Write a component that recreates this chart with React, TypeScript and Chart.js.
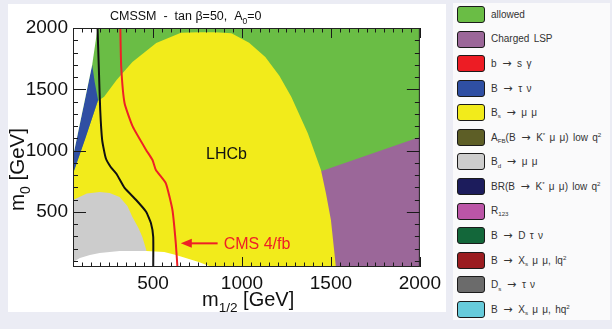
import React, { useEffect, useRef } from "react";
import { Chart, registerables } from "chart.js";
Chart.register(...registerables);

type Pt = [number, number];

// Axis ranges and tick labels (GeV)
const X_RANGE: Pt = [50, 2000];
const Y_RANGE: Pt = [50, 2000];
const xTickValues = [500, 1000, 1500, 2000];
const yTickValues = [500, 1000, 1500, 2000];

// Regions in the (m1/2, m0) plane
const allowedRegion: Pt[] = [[50, 50], [2000, 50], [2000, 2000], [50, 2000]];
const chargedLspRegion: Pt[] = [[1420, 818], [2000, 1110], [2000, 50], [1420, 50]];
const bsMuMuRegion: Pt[] = [
  [50, 50], [1528, 50], [1500, 433], [1472, 651], [1444, 841], [1370, 1141],
  [1277, 1439], [1210, 1610], [1131, 1763], [1040, 1880], [941, 1957],
  [850, 1965], [757, 1966], [657, 1962], [518, 1878], [384, 1723],
  [295, 1576], [225, 1440], [190, 1405], [50, 810],
];
const bTauNuRegion: Pt[] = [[158, 1700], [172, 1560], [191, 1413], [120, 1100], [50, 810], [50, 950]];
const noEwsbRegion: Pt[] = [[50, 2000], [188, 2000], [158, 1700], [50, 950]];
const bdMuMuRegion: Pt[] = [
  [50, 597], [128, 650], [200, 662], [256, 654], [312, 621], [356, 548],
  [384, 458], [418, 368], [440, 295], [462, 189], [465, 50], [50, 50],
];
const excludedLowRegion: Pt[] = [
  [50, 50], [50, 91], [89, 123], [145, 148], [200, 164], [312, 181], [462, 181],
  [563, 172], [629, 148], [702, 115], [757, 91], [830, 50],
];

// Limit contours
const oldLimitLine: Pt[] = [
  [188, 2000], [195, 1682], [203, 1331], [214, 1086], [234, 939], [262, 866],
  [295, 809], [340, 695], [405, 597], [461, 501], [488, 409], [501, 295], [501, 50],
];
const cms4fbLine: Pt[] = [
  [316, 2000], [321, 1684], [340, 1386], [386, 1195], [461, 1005], [497, 923],
  [516, 841], [572, 733], [609, 515], [628, 243], [637, 50],
];

// Annotations (data coordinates)
const lhcbLabelPos: Pt = [913, 964];
const cmsLabelPos: Pt = [897, 243];
const arrowTip: Pt = [656, 243];
const arrowTail: Pt = [863, 243];

const titleText = "CMSSM  -  tan β=50,  A_{0}=0";
const xTitleText = "m_{1/2} [GeV]";
const yTitleText = "m_{0} [GeV]";

// Legend
const legendLabels = [
  "allowed",
  "Charged LSP",
  "b → s γ",
  "B → τ ν",
  "B_{s} → μ μ",
  "A_{FB}(B → K^{*} μ μ) low q^{2}",
  "B_{d} → μ μ",
  "BR(B → K^{*} μ μ) low q^{2}",
  "R_{123}",
  "B → D τ ν",
  "B → X_{s} μ μ, lq^{2}",
  "D_{s} → τ ν",
  "B → X_{s} μ μ, hq^{2}",
];
const legendColors = [
  "#6abd45", "#9b6799", "#ed1c24", "#2f4fa3", "#f2eb1b", "#5d5e26", "#cdcdcd",
  "#1c1c5c", "#bb55a7", "#13673a", "#9b1c20", "#6b6b6b", "#67cbdb",
];

const FONT = '"Liberation Sans", Arial, Helvetica, sans-serif';

type Seg = { t: string; k: "n" | "sub" | "sup" };
function parseMarkup(s: string): Seg[] {
  const out: Seg[] = [];
  const re = /(_\{[^}]*\}|\^\{[^}]*\})/g;
  let last = 0;
  let m: RegExpExecArray | null;
  while ((m = re.exec(s))) {
    if (m.index > last) out.push({ t: s.slice(last, m.index), k: "n" });
    out.push({ t: m[0].slice(2, -1), k: m[0][0] === "_" ? "sub" : "sup" });
    last = m.index + m[0].length;
  }
  if (last < s.length) out.push({ t: s.slice(last), k: "n" });
  return out;
}

function drawRich(ctx: CanvasRenderingContext2D, s: string, x: number, y: number, size: number, align: "left" | "center", color: string) {
  const segs = parseMarkup(s);
  const small = size * 0.68;
  ctx.save();
  ctx.fillStyle = color;
  ctx.textAlign = "left";
  ctx.textBaseline = "alphabetic";
  const widths = segs.map((sg) => {
    ctx.font = `${sg.k === "n" ? size : small}px ${FONT}`;
    return ctx.measureText(sg.t).width;
  });
  const total = widths.reduce((a, b) => a + b, 0);
  let cx = align === "center" ? x - total / 2 : x;
  segs.forEach((sg, i) => {
    ctx.font = `${sg.k === "n" ? size : small}px ${FONT}`;
    const dy = sg.k === "sub" ? size * 0.28 : sg.k === "sup" ? -size * 0.42 : 0;
    ctx.fillText(sg.t, cx, y + dy);
    cx += widths[i];
  });
  ctx.restore();
}

const toXY = (pts: Pt[]) => pts.map(([x, y]) => ({ x, y }));

const region = (label: string, pts: Pt[], color: string, order: number) => ({
  label,
  data: toXY(pts),
  showLine: true,
  fill: "shape" as const,
  backgroundColor: color,
  borderColor: color,
  borderWidth: 0,
  pointRadius: 0,
  tension: 0,
  order,
});

const contour = (label: string, pts: Pt[], color: string, order: number) => ({
  label,
  data: toXY(pts),
  showLine: true,
  fill: false,
  borderColor: color,
  backgroundColor: color,
  borderWidth: 2,
  pointRadius: 0,
  tension: 0.15,
  order,
});

const decorPlugin = {
  id: "decor",
  afterDatasetsDraw(chart: any) {
    const { ctx, chartArea: a, scales } = chart;
    const xs = scales.x;
    const ys = scales.y;
    ctx.save();
    // ticks
    ctx.strokeStyle = "#1a1a1a";
    ctx.lineWidth = 1;
    ctx.beginPath();
    for (let v = 50; v <= 2000; v += 50) {
      const px = Math.round(xs.getPixelForValue(v)) + 0.5;
      const len = v % 500 === 0 ? 10 : 4.5;
      ctx.moveTo(px, a.bottom);
      ctx.lineTo(px, a.bottom - len);
      ctx.moveTo(px, a.top);
      ctx.lineTo(px, a.top + len);
    }
    for (let v = 100; v <= 2000; v += 100) {
      const py = Math.round(ys.getPixelForValue(v)) + 0.5;
      const len = v % 500 === 0 ? 13 : 5;
      ctx.moveTo(a.left, py);
      ctx.lineTo(a.left + len, py);
      ctx.moveTo(a.right, py);
      ctx.lineTo(a.right - len, py);
    }
    ctx.stroke();
    // frame
    ctx.strokeStyle = "#222";
    ctx.strokeRect(a.left + 0.5, a.top + 0.5, a.right - a.left - 1, a.bottom - a.top - 1);

    // LHCb label
    ctx.fillStyle = "#111";
    ctx.font = `16px ${FONT}`;
    ctx.textAlign = "center";
    ctx.textBaseline = "middle";
    ctx.fillText("LHCb", xs.getPixelForValue(lhcbLabelPos[0]), ys.getPixelForValue(lhcbLabelPos[1]));

    // CMS arrow
    const red = "#ee2026";
    const tx = xs.getPixelForValue(arrowTip[0]);
    const ty = ys.getPixelForValue(arrowTip[1]);
    const ex = xs.getPixelForValue(arrowTail[0]);
    ctx.strokeStyle = red;
    ctx.lineWidth = 2;
    ctx.beginPath();
    ctx.moveTo(tx + 8, ty);
    ctx.lineTo(ex, ty);
    ctx.stroke();
    ctx.fillStyle = red;
    ctx.beginPath();
    ctx.moveTo(tx, ty);
    ctx.lineTo(tx + 11, ty - 4.5);
    ctx.lineTo(tx + 11, ty + 4.5);
    ctx.closePath();
    ctx.fill();
    ctx.font = `16px ${FONT}`;
    ctx.textAlign = "left";
    ctx.textBaseline = "middle";
    ctx.fillText("CMS 4/fb", xs.getPixelForValue(cmsLabelPos[0]), ys.getPixelForValue(cmsLabelPos[1]) + 1);
    ctx.restore();
  },
  afterDraw(chart: any) {
    const { ctx, chartArea: a } = chart;
    drawRich(ctx, titleText, a.left + 37, a.top - 8, 12.5, "left", "#111");
    drawRich(ctx, xTitleText, a.left + 129, a.bottom + 39, 20, "left", "#111");
    ctx.save();
    ctx.translate(a.left - 49, (a.top + a.bottom) / 2 + 22);
    ctx.rotate(-Math.PI / 2);
    drawRich(ctx, yTitleText, 0, 0, 20.5, "center", "#111");
    ctx.restore();
  },
};

function renderNormal(t: string, key: number) {
  const parts = t.split("→");
  return (
    <span key={key}>
      {parts.map((p, j) => (
        <React.Fragment key={j}>
          {j > 0 && (
            <span
              style={{
                display: "inline-block",
                width: 12,
                textAlign: "center",
                fontFamily: '"DejaVu Sans", sans-serif',
                fontSize: 11,
                lineHeight: 1,
              }}
            >
              →
            </span>
          )}
          {p}
        </React.Fragment>
      ))}
    </span>
  );
}

function renderMarkup(s: string) {
  return parseMarkup(s).map((sg, i) =>
    sg.k === "n" ? (
      renderNormal(sg.t, i)
    ) : (
      <span
        key={i}
        style={{ fontSize: "0.62em", position: "relative", top: sg.k === "sub" ? "0.35em" : "-0.6em" }}
      >
        {sg.t}
      </span>
    )
  );
}

export default function App() {
  const canvasRef = useRef<HTMLCanvasElement>(null);

  useEffect(() => {
    const canvas = canvasRef.current!;
    const tickFont = { family: FONT, size: 19 };
    const fmt = (v: any) => String(v);
    const chart = new Chart(canvas, {
      type: "scatter",
      data: {
        datasets: [
          contour("CMS 4/fb", cms4fbLine, "#ee2026", 1),
          contour("previous limit", oldLimitLine, "#111111", 2),
          region("excluded", excludedLowRegion, "#ffffff", 4),
          region("Bd → μμ", bdMuMuRegion, "#cccccc", 5),
          region("no EWSB", noEwsbRegion, "#ffffff", 6),
          region("B → τν", bTauNuRegion, "#2f4fa3", 7),
          region("Bs → μμ", bsMuMuRegion, "#f2eb1b", 8),
          region("Charged LSP", chargedLspRegion, "#9b6799", 9),
          region("allowed", allowedRegion, "#6abd45", 10),
        ] as any,
      },
      options: {
        responsive: false,
        devicePixelRatio: 1,
        animation: false,
        layout: { padding: { top: 24, right: 23, left: 0, bottom: 0 } },
        plugins: { legend: { display: false }, tooltip: { enabled: false } },
        scales: {
          x: {
            type: "linear",
            min: X_RANGE[0],
            max: X_RANGE[1],
            afterBuildTicks: (s: any) => {
              s.ticks = xTickValues.map((v) => ({ value: v }));
            },
            afterFit: (s: any) => {
              s.height = 45;
            },
            grid: { display: false, drawTicks: false, tickLength: 0 },
            border: { display: false },
            ticks: { font: tickFont, color: "#111", padding: 5, maxRotation: 0, autoSkip: false, callback: fmt },
          },
          y: {
            type: "linear",
            min: Y_RANGE[0],
            max: Y_RANGE[1],
            afterBuildTicks: (s: any) => {
              s.ticks = yTickValues.map((v) => ({ value: v }));
            },
            afterFit: (s: any) => {
              s.width = 65;
            },
            grid: { display: false, drawTicks: false, tickLength: 0 },
            border: { display: false },
            ticks: { font: tickFont, color: "#111", padding: 5, autoSkip: false, callback: fmt },
          },
        },
      } as any,
      plugins: [decorPlugin],
    });
    return () => chart.destroy();
  }, []);

  return (
    <div
      style={{
        position: "fixed",
        left: 0,
        top: 0,
        width: 612,
        height: 329,
        background: "#ebecf4",
        overflow: "hidden",
        fontFamily: FONT,
      }}
    >
      <div style={{ position: "absolute", left: 8, top: 4, width: 438, height: 308, background: "#ffffff" }}>
        <canvas ref={canvasRef} width={438} height={308} style={{ display: "block", width: 438, height: 308 }} />
      </div>
      <div style={{ position: "absolute", left: 453, top: 3, width: 157, height: 317, background: "#fafafb" }}>
        {legendLabels.map((lab, i) => (
          <div
            key={i}
            style={{
              position: "absolute",
              left: 4,
              top: 3 + i * 24.58,
              height: 17,
              display: "flex",
              alignItems: "center",
              whiteSpace: "nowrap",
            }}
          >
            <div
              style={{
                width: 28,
                height: 17,
                boxSizing: "border-box",
                background: legendColors[i],
                border: "1.5px solid #1b1b1b",
                borderRadius: 3,
                flex: "none",
              }}
            />
            <span style={{ marginLeft: 6, fontSize: 10, color: "#333", lineHeight: 1, wordSpacing: 1.5 }}>
              {renderMarkup(lab)}
            </span>
          </div>
        ))}
      </div>
    </div>
  );
}
